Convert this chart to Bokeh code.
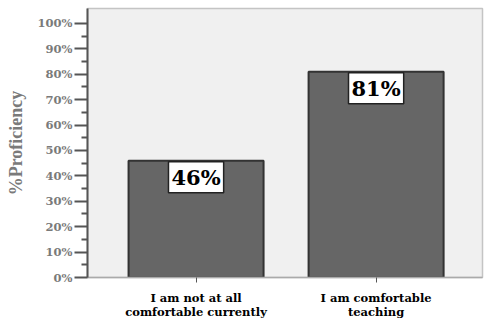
from bokeh.plotting import figure
from bokeh.models import (ColumnDataSource, Range1d, FixedTicker, Label,
                          PrintfTickFormatter)
from bokeh.embed import file_html
from bokeh.resources import INLINE

# Survey responses and the share reaching proficiency
categories = ["I am not at all\ncomfortable currently", "I am comfortable\nteaching"]
proficiency = [46, 81]
value_labels = ["46%", "81%"]
y_ticks = [0, 10, 20, 30, 40, 50, 60, 70, 80, 90, 100]

xs = [i + 0.5 for i in range(len(categories))]
src = ColumnDataSource(dict(x=xs, top=proficiency, label=value_labels))

SERIF = "Liberation Serif"
WIDE_SERIF = "DejaVu Serif"

p = figure(width=485, height=327, output_backend="svg", toolbar_location=None,
           x_range=Range1d(-0.103, 2.091), y_range=Range1d(0, 105.9),
           min_border_left=87, min_border_right=3, min_border_top=8,
           min_border_bottom=50)

p.background_fill_color = "#f0f0f0"
p.border_fill_color = "white"
p.outline_line_color = "#c4c4c4"
p.outline_line_width = 1.5
p.grid.visible = False

p.vbar(x="x", top="top", bottom=0, width=0.75, source=src,
       fill_color="#666666", line_color="#333333", line_width=2)

# boxed value labels hanging from the top of each bar
for x, top, txt in zip(xs, proficiency, value_labels):
    p.add_layout(Label(x=x, y=top, text=txt, text_align="center",
                       text_baseline="top", y_offset=-1,
                       text_font=WIDE_SERIF, text_font_style="bold",
                       text_font_size="21px", text_color="black",
                       background_fill_color="white",
                       border_line_color="#222222", border_line_width=1.5,
                       padding=3))

# y axis
ya = p.yaxis[0]
ya.ticker = FixedTicker(ticks=y_ticks, minor_ticks=[v + 5 for v in y_ticks[:-1]])
ya.formatter = PrintfTickFormatter(format="%d%%")
ya.axis_line_color = "#555555"
ya.axis_line_width = 2
ya.major_tick_line_color = "#555555"
ya.major_tick_line_width = 2
ya.major_tick_out = 13
ya.major_tick_in = 0
ya.minor_tick_line_color = "#555555"
ya.minor_tick_line_width = 2
ya.minor_tick_out = 6
ya.minor_tick_in = 0
ya.major_label_standoff = 2
ya.major_label_text_font = WIDE_SERIF
ya.major_label_text_font_style = "bold"
ya.major_label_text_font_size = "11.5px"
ya.major_label_text_color = "#7a7a7a"
ya.axis_label = "%Proficiency"
ya.axis_label_text_font = SERIF
ya.axis_label_text_font_style = "bold"
ya.axis_label_text_font_size = "18px"
ya.axis_label_text_color = "#7a7a7a"
ya.axis_label_standoff = 9

# x axis
xa = p.xaxis[0]
xa.ticker = FixedTicker(ticks=xs, minor_ticks=[])
xa.major_label_overrides = {x: c for x, c in zip(xs, categories)}
xa.axis_line_color = "#aaaaaa"
xa.axis_line_width = 1.5
xa.major_tick_line_color = "#555555"
xa.major_tick_out = 5
xa.major_tick_in = 0
xa.major_label_standoff = 8
xa.major_label_text_font = WIDE_SERIF
xa.major_label_text_font_style = "bold"
xa.major_label_text_font_size = "11.5px"
xa.major_label_text_color = "black"
xa.major_label_text_line_height = 1.0

open("out.html", "w").write(file_html(p, INLINE))
